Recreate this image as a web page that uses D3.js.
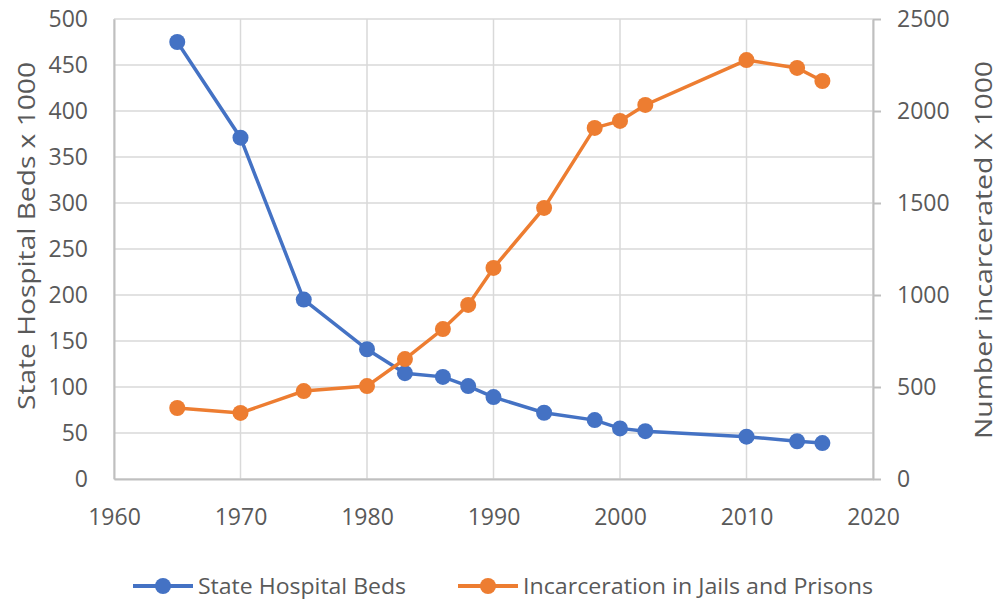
<!DOCTYPE html>
<html>
<head>
<meta charset="utf-8">
<script src="https://cdn.jsdelivr.net/npm/d3@7"></script>
<style>
  body { margin: 0; background: #fff; }
  text { font-family: "Open Sans", "Noto Sans", sans-serif; fill: #595959; }
</style>
</head>
<body>
<div id="chart"></div>
<script>
// data
const years = [1965, 1970, 1975, 1980, 1983, 1986, 1988, 1990, 1994, 1998, 2000, 2002, 2010, 2014, 2016];
const hospitalBeds = [475, 371, 195, 141, 115, 111, 101, 89, 72, 64, 55, 52, 46, 41, 39];
const incarcerated = [386, 359, 478, 505, 652, 815, 946, 1147, 1473, 1908, 1946, 2033, 2277, 2234, 2163];
const xTicks = [1960, 1970, 1980, 1990, 2000, 2010, 2020];
const leftTicks = [0, 50, 100, 150, 200, 250, 300, 350, 400, 450, 500];
const rightTicks = [0, 500, 1000, 1500, 2000, 2500];
const seriesNames = ["State Hospital Beds", "Incarceration in Jails and Prisons"];

const BLUE = "#4472C4";
const ORANGE = "#ED7D31";

const width = 998, height = 602;
const margin = { top: 19, right: 125, bottom: 123, left: 114 };
const innerW = width - margin.left - margin.right;
const innerH = height - margin.top - margin.bottom;

const svg = d3.select("#chart").append("svg")
  .attr("width", width)
  .attr("height", height);

const g = svg.append("g")
  .attr("transform", `translate(${margin.left},${margin.top})`);

const x = d3.scaleLinear().domain([1960, 2020]).range([0, innerW]);
const yLeft = d3.scaleLinear().domain([0, 500]).range([innerH, 0]);
const yRight = d3.scaleLinear().domain([0, 2500]).range([innerH, 0]);

// gridlines
g.append("g").selectAll("line").data(leftTicks).join("line")
  .attr("x1", 0).attr("x2", innerW)
  .attr("y1", d => yLeft(d)).attr("y2", d => yLeft(d))
  .attr("stroke", "#d9d9d9").attr("stroke-width", 1.5);

g.append("g").selectAll("line").data(xTicks).join("line")
  .attr("x1", d => x(d)).attr("x2", d => x(d))
  .attr("y1", 0).attr("y2", innerH)
  .attr("stroke", "#d9d9d9").attr("stroke-width", 1.5);

// axes
const xAxis = g.append("g")
  .attr("transform", `translate(0,${innerH})`)
  .call(d3.axisBottom(x).tickValues(xTicks).tickSize(0).tickPadding(30).tickFormat(d3.format("d")));
xAxis.select(".domain").attr("stroke", "#bfbfbf").attr("stroke-width", 2);

const leftAxis = g.append("g")
  .call(d3.axisLeft(yLeft).tickValues(leftTicks).tickSize(0).tickPadding(26));
leftAxis.select(".domain").attr("stroke", "#bfbfbf").attr("stroke-width", 2);

const rightAxis = g.append("g")
  .attr("transform", `translate(${innerW},0)`)
  .call(d3.axisRight(yRight).tickValues(rightTicks).tickSize(8).tickSizeOuter(0)
    .tickPadding(16).tickFormat(d3.format("d")));
rightAxis.select(".domain").attr("stroke", "#bfbfbf").attr("stroke-width", 2);
rightAxis.selectAll(".tick line").attr("stroke", "#bfbfbf").attr("stroke-width", 2);

[xAxis, leftAxis, rightAxis].forEach(a => {
  a.selectAll(".tick text")
    .attr("fill", "#595959")
    .style("font-size", "23px");
});

// axis titles
svg.append("text")
  .attr("transform", "translate(27,236) rotate(-90)")
  .attr("text-anchor", "middle")
  .attr("dy", "0.35em")
  .attr("textLength", 348)
  .attr("lengthAdjust", "spacingAndGlyphs")
  .style("font-size", "24px")
  .text("State Hospital Beds x 1000");

svg.append("text")
  .attr("transform", "translate(984,250) rotate(-90)")
  .attr("text-anchor", "middle")
  .attr("dy", "0.35em")
  .attr("textLength", 378)
  .attr("lengthAdjust", "spacingAndGlyphs")
  .style("font-size", "24px")
  .text("Number incarcerated X 1000");

// series
const series = [
  { name: seriesNames[0], values: hospitalBeds, y: yLeft, color: BLUE },
  { name: seriesNames[1], values: incarcerated, y: yRight, color: ORANGE }
];

series.forEach(s => {
  const pts = years.map((yr, i) => [yr, s.values[i]]);
  const line = d3.line().x(d => x(d[0])).y(d => s.y(d[1]));
  g.append("path")
    .datum(pts)
    .attr("fill", "none")
    .attr("stroke", s.color)
    .attr("stroke-width", 3.5)
    .attr("d", line);
  g.append("g").selectAll("circle").data(pts).join("circle")
    .attr("cx", d => x(d[0]))
    .attr("cy", d => s.y(d[1]))
    .attr("r", 8)
    .attr("fill", s.color);
});

// legend
const legend = svg.append("g").attr("transform", "translate(0,586)");
const legendX = [133, 458];
const legendTextLen = [208, 350];
series.forEach((s, i) => {
  const lg = legend.append("g").attr("transform", `translate(${legendX[i]},0)`);
  lg.append("line").attr("x1", 0).attr("x2", 60).attr("y1", 0).attr("y2", 0)
    .attr("stroke", s.color).attr("stroke-width", 4);
  lg.append("circle").attr("cx", 30).attr("cy", 0).attr("r", 8).attr("fill", s.color);
  lg.append("text").attr("x", 65).attr("dy", "0.35em")
    .attr("textLength", legendTextLen[i])
    .attr("lengthAdjust", "spacingAndGlyphs")
    .style("font-size", "22px")
    .text(s.name);
});
</script>
</body>
</html>
